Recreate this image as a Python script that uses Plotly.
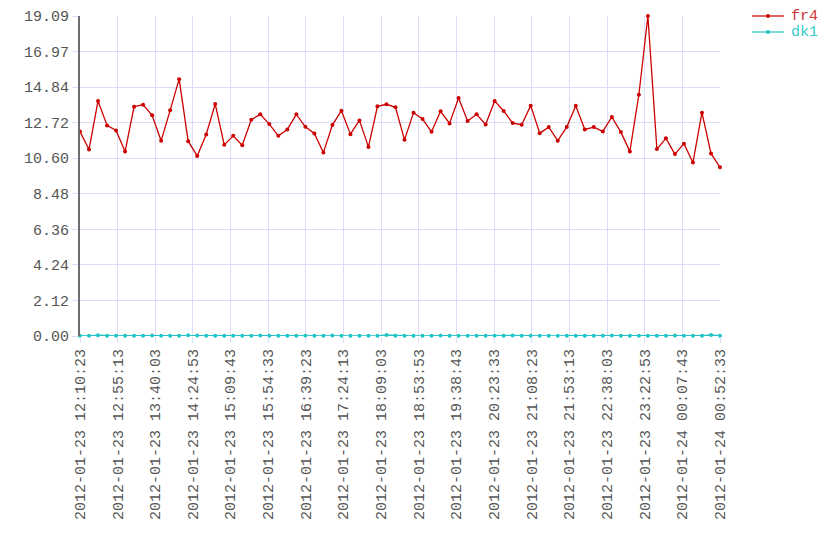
import pandas as pd
import plotly.graph_objects as go

start = "2012-01-23 12:10:23"
end = "2012-01-24 00:52:33"

fr4 = [12.20, 11.12, 14.02, 12.56, 12.26, 11.00, 13.68, 13.80, 13.16, 11.64,
       13.46, 15.32, 11.62, 10.74, 12.02, 13.84, 11.40, 11.94, 11.38, 12.90,
       13.22, 12.64, 11.94, 12.32, 13.22, 12.48, 12.08, 10.94, 12.58, 13.44,
       12.04, 12.86, 11.28, 13.70, 13.82, 13.64, 11.70, 13.32, 12.94, 12.18,
       13.40, 12.68, 14.20, 12.82, 13.22, 12.62, 14.02, 13.42, 12.70, 12.60,
       13.74, 12.10, 12.46, 11.65, 12.46, 13.73, 12.32, 12.46, 12.20, 13.06,
       12.16, 11.01, 14.39, 19.086, 11.15, 11.79, 10.85, 11.47, 10.35, 13.32,
       10.89, 10.06]

dk1 = [0.02, 0.01, 0.05, 0.02, 0.01, 0.02, 0.02, 0.01, 0.03, 0.02,
       0.01, 0.02, 0.05, 0.03, 0.02, 0.01, 0.02, 0.02, 0.01, 0.02,
       0.03, 0.02, 0.01, 0.02, 0.02, 0.01, 0.02, 0.02, 0.03, 0.02,
       0.01, 0.02, 0.02, 0.01, 0.06, 0.02, 0.02, 0.01, 0.02, 0.02,
       0.03, 0.02, 0.01, 0.02, 0.02, 0.01, 0.02, 0.02, 0.03, 0.02,
       0.01, 0.02, 0.02, 0.01, 0.02, 0.02, 0.01, 0.02, 0.02, 0.03,
       0.02, 0.01, 0.02, 0.02, 0.01, 0.02, 0.03, 0.02, 0.01, 0.02,
       0.06, 0.02]

times = pd.date_range(start, end, periods=len(fr4))

tick_times = ["2012-01-23 12:10:23", "2012-01-23 12:55:13", "2012-01-23 13:40:03",
              "2012-01-23 14:24:53", "2012-01-23 15:09:43", "2012-01-23 15:54:33",
              "2012-01-23 16:39:23", "2012-01-23 17:24:13", "2012-01-23 18:09:03",
              "2012-01-23 18:53:53", "2012-01-23 19:38:43", "2012-01-23 20:23:33",
              "2012-01-23 21:08:23", "2012-01-23 21:53:13", "2012-01-23 22:38:03",
              "2012-01-23 23:22:53", "2012-01-24 00:07:43", "2012-01-24 00:52:33"]

series_names = ["fr4", "dk1"]
series_colors = ["#cc0000", "#22c4c4"]
legend_text_colors = ["#cc3333", "#33cccc"]

ymax = max(fr4)
ytick_vals = [ymax * i / 9 for i in range(10)]
ytick_text = ["%.2f" % v for v in ytick_vals]

grid = "#dcdcf8"
font = "Liberation Mono, Courier New, monospace"

# plot box in window pixels: x 80..720, y 16..336 (page body adds 8px offset)
def px(x):
    return (x - 80) / 640

def py(y):
    return (336 - y) / 320

fig = go.Figure()
for name, ys, col in zip(series_names, [fr4, dk1], series_colors):
    fig.add_trace(go.Scatter(
        x=times, y=ys, mode="lines+markers", cliponaxis=False, name=name,
        line=dict(color=col, width=1.3), marker=dict(color=col, size=4),
    ))

# hand-drawn legend, top right
for i, (name, col, tcol) in enumerate(zip(series_names, series_colors, legend_text_colors)):
    ly = 16 + 16 * i
    fig.add_shape(type="line", xref="paper", yref="paper",
                  x0=px(752), x1=px(784), y0=py(ly), y1=py(ly),
                  line=dict(color=col, width=2), opacity=0.6)
    fig.add_shape(type="circle", xref="paper", yref="paper",
                  x0=px(766), x1=px(770), y0=py(ly + 2), y1=py(ly - 2),
                  fillcolor=col, line=dict(color=col, width=0))
    fig.add_annotation(x=px(789), y=py(ly), xref="paper", yref="paper",
                       text=name, showarrow=False, xanchor="left", yanchor="middle",
                       font=dict(family=font, size=15, color=tcol))

fig.update_layout(
    width=840, height=560,
    margin=dict(l=72, r=128, t=8, b=232, autoexpand=False),
    paper_bgcolor="white", plot_bgcolor="white",
    font=dict(family=font, size=15, color="#555555"),
    showlegend=False,
    xaxis=dict(
        range=[start, end], tickvals=tick_times, ticktext=tick_times,
        tickangle=-90, showgrid=True, gridcolor=grid, gridwidth=1,
        ticks="outside", ticklen=6, tickcolor=grid, showline=False, zeroline=False,
        automargin=False,
    ),
    yaxis=dict(
        range=[0, ymax], tickvals=ytick_vals, ticktext=ytick_text,
        showgrid=True, gridcolor=grid, gridwidth=1,
        ticks="outside", ticklen=6, tickcolor=grid,
        showline=True, linecolor="#6e6e6e", linewidth=2, zeroline=False,
        automargin=False,
    ),
)

fig.write_html("out.html")
